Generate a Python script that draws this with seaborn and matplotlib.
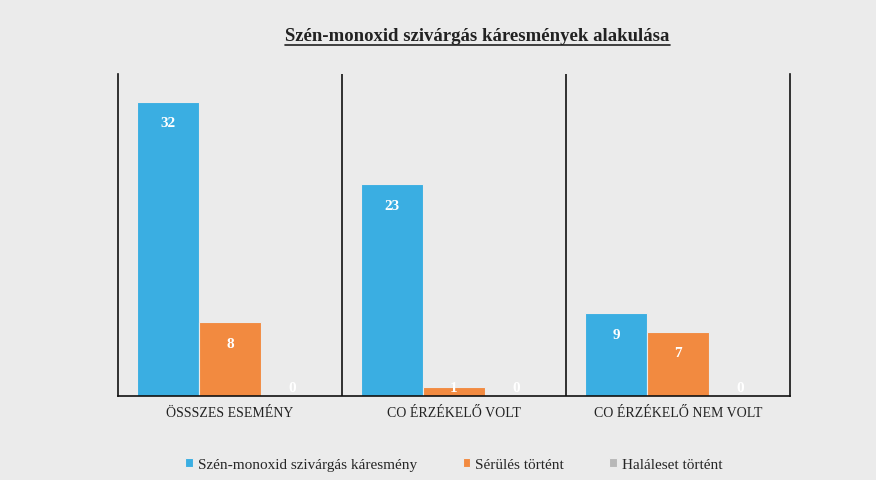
import pandas as pd
import matplotlib.pyplot as plt
import seaborn as sns

# chart data
categories = ['ÖSSSZES ESEMÉNY', 'CO ÉRZÉKELŐ VOLT', 'CO ÉRZÉKELŐ NEM VOLT']
series = ['Szén-monoxid szivárgás káresmény', 'Sérülés történt', 'Haláleset történt']
leak_events = [32, 23, 9]
injuries = [8, 1, 7]
deaths = [0, 0, 0]
title = 'Szén-monoxid szivárgás káresmények alakulása'

colors = ['#3aaee2', '#f28a40', '#b8b8b8']
bg = '#ebebeb'

df = pd.DataFrame({
    'category': categories * 3,
    'series': [series[0]] * 3 + [series[1]] * 3 + [series[2]] * 3,
    'value': leak_events + injuries + deaths,
})

sns.set_style('white')
plt.rcParams['font.family'] = ['Liberation Serif', 'DejaVu Serif']

fig = plt.figure(figsize=(8.76, 4.81), dpi=100, facecolor=bg)
ax = fig.add_axes([0.1347, 0.1746, 0.7671, 0.6694])
ax.set_facecolor(bg)

sns.barplot(data=df, x='category', y='value', hue='series', order=categories,
            hue_order=series, palette=colors, width=0.83, saturation=1,
            edgecolor=bg, linewidth=0.8, ax=ax, legend=True)

ax.set_ylim(0, 35)
ax.set_xlim(-0.5, 2.5)
ax.set_xlabel('')
ax.set_ylabel('')
ax.set_yticks([])
ax.tick_params(axis='x', length=0, pad=7, labelsize=10, labelcolor='#222222')

for s in ['left', 'right', 'bottom']:
    ax.spines[s].set_visible(True)
    ax.spines[s].set_color('#111111')
    ax.spines[s].set_linewidth(1.2)
ax.spines['top'].set_visible(False)
for xv in [0.5, 1.5]:
    ax.axvline(xv, color='#111111', lw=1.2)

# value labels inside the bar ends
for cont in ax.containers:
    for bar in cont:
        h = bar.get_height()
        cx = bar.get_x() + bar.get_width() / 2
        ax.annotate(f'{int(h)}', xy=(cx, max(h, 3.2)), xytext=(0, -15),
                    textcoords='offset points', ha='center', va='center',
                    color='white', fontsize=11, fontweight='bold')

fig.text(0.545, 0.925, title, ha='center', va='center', fontsize=13.5,
         fontweight='bold', color='#222222')
t = fig.texts[-1]
fig.canvas.draw()
bb = t.get_window_extent().transformed(fig.transFigure.inverted())
fig.add_artist(plt.Line2D([bb.x0, bb.x1], [bb.y0 - 0.003, bb.y0 - 0.003],
                          color='#222222', lw=1.2, transform=fig.transFigure))

handles, labels = ax.get_legend_handles_labels()
ax.legend(handles, labels, loc='center', bbox_to_anchor=(0.518, 0.033),
          bbox_transform=fig.transFigure, ncol=3, frameon=False,
          handlelength=0.5, handleheight=0.5, handletextpad=0.3,
          columnspacing=3.0, fontsize=11)

fig.savefig('out.png', dpi=100, facecolor=bg)
